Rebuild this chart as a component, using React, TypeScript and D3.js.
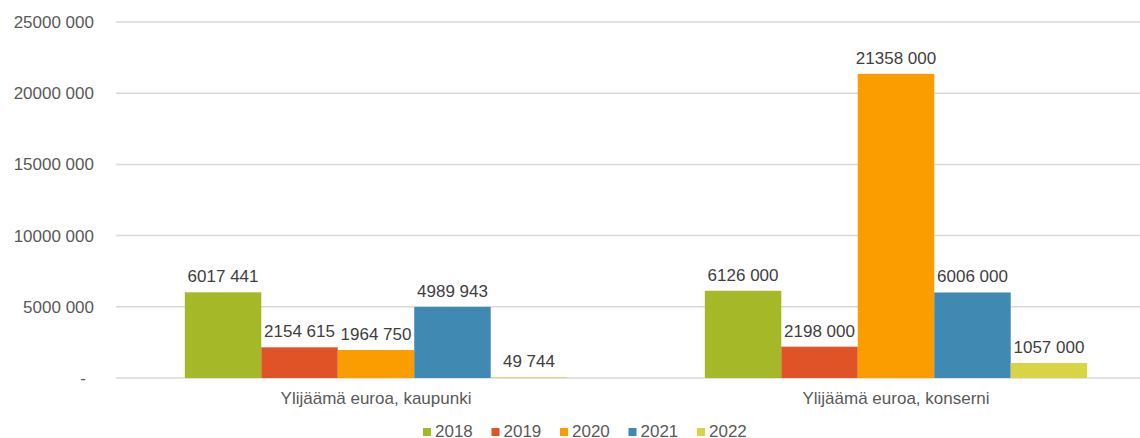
import React from "react";
import * as d3 from "d3";

const categories = ["Ylijäämä euroa, kaupunki", "Ylijäämä euroa, konserni"];
const years = ["2018", "2019", "2020", "2021", "2022"];
const values2018 = [6017441, 6126000];
const values2019 = [2154615, 2198000];
const values2020 = [1964750, 21358000];
const values2021 = [4989943, 6006000];
const values2022 = [49744, 1057000];
const yTicks = [0, 5000000, 10000000, 15000000, 20000000, 25000000];
const yTickLabels = ["-", "5000 000", "10000 000", "15000 000", "20000 000", "25000 000"];
const colors = ["#a5b828", "#e05326", "#fb9c00", "#3f89b3", "#d9d445"];

const W = 1140;
const H = 438;
const margin = { top: 22, right: -16, bottom: 60, left: 116 };
const font = "'Liberation Sans', Arial, sans-serif";
const fs = 17;

const fmt = (v: number) => {
  const s = String(v);
  if (s.length <= 3) return s;
  return s.slice(0, s.length - 3) + " " + s.slice(s.length - 3);
};

export default function App() {
  const series = [values2018, values2019, values2020, values2021, values2022];
  const innerH = H - margin.top - margin.bottom;
  const x0 = d3
    .scaleBand()
    .domain(categories)
    .range([margin.left, W - margin.right])
    .paddingInner(0)
    .paddingOuter(0);
  const x1 = d3
    .scaleBand()
    .domain(years)
    .range([0, x0.bandwidth()])
    .paddingOuter(0.9)
    .paddingInner(0);
  const y = d3
    .scaleLinear()
    .domain([0, 25000000])
    .range([margin.top + innerH, margin.top]);

  const legendStart = 423;
  const legendStep = 68.5;

  return (
    <svg width={W} height={H} style={{ position: "absolute", left: 0, top: 0, background: "#fff" }}>
      {yTicks.map((t, i) => (
        <g key={t}>
          <line x1={margin.left} x2={W} y1={y(t)} y2={y(t)} stroke="#d9d9d9" strokeWidth={1.5} />
          <text
            x={t === 0 ? 86 : 94}
            y={y(t)}
            dy="0.35em"
            textAnchor="end"
            fontFamily={font}
            fontSize={fs}
            fill="#595959"
          >
            {yTickLabels[i]}
          </text>
        </g>
      ))}
      {categories.map((c, ci) => (
        <g key={c}>
          {series.map((vals, si) => {
            const bx = (x0(c) as number) + (x1(years[si]) as number);
            const by = y(vals[ci]);
            return (
              <g key={years[si]}>
                <rect
                  x={bx}
                  y={by}
                  width={x1.bandwidth()}
                  height={y(0) - by}
                  fill={colors[si]}
                />
                <text
                  x={bx + x1.bandwidth() / 2}
                  y={by - 10}
                  textAnchor="middle"
                  fontFamily={font}
                  fontSize={fs}
                  fill="#404040"
                >
                  {fmt(vals[ci])}
                </text>
              </g>
            );
          })}
          <text
            x={(x0(c) as number) + x0.bandwidth() / 2}
            y={404}
            textAnchor="middle"
            fontFamily={font}
            fontSize={fs}
            fill="#595959"
          >
            {c}
          </text>
        </g>
      ))}
      {years.map((yr, i) => (
        <g key={yr} transform={`translate(${legendStart + i * legendStep},0)`}>
          <rect x={0} y={428} width={8} height={8} fill={colors[i]} />
          <text x={12} y={436.5} fontFamily={font} fontSize={fs} fill="#595959">
            {yr}
          </text>
        </g>
      ))}
    </svg>
  );
}
